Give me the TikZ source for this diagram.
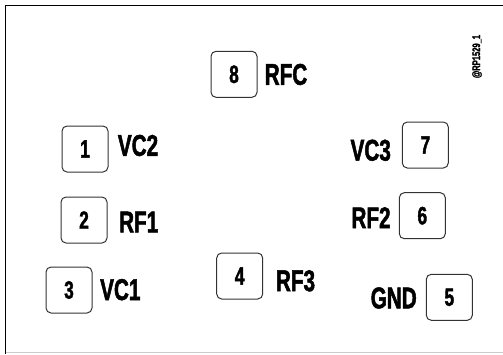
\documentclass[tikz,border=0pt]{standalone}
\usepackage{fontspec}
\newfontfamily\pinfont[FakeStretch=0.69, BoldFeatures={FakeBold=1.6}]{Liberation Sans}
\usetikzlibrary{positioning}

\begin{document}
\begin{tikzpicture}[
		x=1pt, y=-1pt,
		pad/.style={draw=black!80, line width=1pt, rounded corners=5pt, minimum size=46pt, inner sep=0pt, font=\pinfont\bfseries\fontsize{25}{25}\selectfont},
		pinlabel/.style={inner sep=0pt, font=\pinfont\bfseries\fontsize{30}{30}\selectfont},
	]
		\useasboundingbox (0,0) rectangle (503,354);
		% package outline
		\draw[line width=1.6pt] (5.5,354) -- (5.5,5.5) -- (503,5.5);
		\draw[black!20, line width=1pt] (5.5,352) -- (503,352);
		
		% pads
		\node[pad] (p8) at (234,74.3) {8};
		\node[pad] (p1) at (85,149) {1};
		\node[pad] (p7) at (425.3,145) {7};
		\node[pad] (p2) at (84,220) {2};
		\node[pad] (p6) at (422.3,215.7) {6};
		\node[pad] (p3) at (69,290) {3};
		\node[pad] (p4) at (239.7,276) {4};
		\node[pad] (p5) at (449.3,297.3) {5};
		
		% pin names
		\node[pinlabel] (l8) at (286,74.5) {RFC};
		\node[pinlabel] (l1) at (138,145.5) {VC2};
		\node[pinlabel] (l7) at (370.7,150.3) {VC3};
		\node[pinlabel] (l2) at (138.7,222) {RF1};
		\node[pinlabel] (l6) at (371,217.7) {RF2};
		\node[pinlabel] (l3) at (120.3,289.7) {VC1};
		\node[pinlabel] (l4) at (295.5,280.8) {RF3};
		\node[pinlabel] (l5) at (393.7,298) {GND};
		
		\node[rotate=90, inner sep=0pt, font=\pinfont\bfseries\fontsize{11}{11}\selectfont] (fig) at (477,56.5) {@RP1529\_1};
	\end{tikzpicture}
\end{document}
